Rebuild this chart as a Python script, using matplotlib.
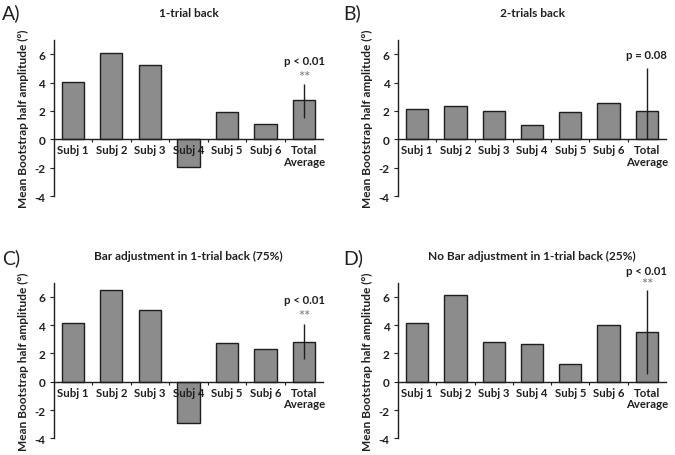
import matplotlib
matplotlib.use("Agg")
import matplotlib.pyplot as plt
import numpy as np

plt.rcParams['font.family'] = ['Lato', 'DejaVu Sans']

categories = ["Subj 1", "Subj 2", "Subj 3", "Subj 4", "Subj 5", "Subj 6", "Total\nAverage"]

vals_a = [4.02, 6.12, 5.27, -1.93, 1.90, 1.10, 2.78]
err_a = [1.30, 1.10]   # lower, upper for Total Average
vals_b = [2.12, 2.38, 2.02, 1.01, 1.95, 2.59, 2.02]
err_b = [2.02, 3.02]
vals_c = [4.14, 6.49, 5.04, -2.89, 2.71, 2.31, 2.78]
err_c = [1.18, 1.29]
vals_d = [4.12, 6.12, 2.82, 2.68, 1.27, 3.98, 3.53]
err_d = [2.99, 2.96]

titles = ["1-trial back", "2-trials back",
          "Bar adjustment in 1-trial back (75%)",
          "No Bar adjustment in 1-trial back (25%)"]
letters = ["A)", "B)", "C)", "D)"]
pvals = ["p < 0.01", "p = 0.08", "p < 0.01", "p < 0.01"]
stars = ["**", "", "**", "**"]
p_y = [5.55, 6.0, 5.77, 7.88]
star_y = [4.4, None, 4.64, 6.86]
yticks = [-4, -2, 0, 2, 4, 6]
ylabel = "Mean Bootstrap half amplitude (°)"

W, H = 675, 456
fig = plt.figure(figsize=(W / 100, H / 100), dpi=100)

# axes rectangles in pixels: left, top(y=7), right, bottom(y=-4)
rects = [(53.5, 41.1, 323.3, 197.0),
         (398.0, 41.1, 666.0, 197.0),
         (53.5, 283.5, 323.3, 439.4),
         (398.0, 283.5, 666.0, 439.4)]
letter_pos = [(2, 13), (343, 13), (2, 258), (343, 258)]

data = [(vals_a, err_a), (vals_b, err_b), (vals_c, err_c), (vals_d, err_d)]
txt = '#231f20'
wt = 'bold'

for i, ((vals, err), (l, t, r, b)) in enumerate(zip(data, rects)):
    ax = fig.add_axes([l / W, 1 - b / H, (r - l) / W, (b - t) / H])
    ax.set_axisbelow(False)
    x = np.arange(len(categories))
    ax.bar(x, vals, width=0.58, color='#8c8c8c', edgecolor='#1e1e1e', linewidth=1.0, zorder=2)
    ax.errorbar([x[-1]], [vals[-1]], yerr=[[err[0]], [err[1]]], fmt='none',
                ecolor='#1e1e1e', elinewidth=1.0, capsize=0, zorder=3)
    ax.set_xlim(-0.5, 6.5)
    ax.set_ylim(-4, 7)
    ax.spines['top'].set_visible(False)
    ax.spines['right'].set_visible(False)
    ax.spines['bottom'].set_position(('data', 0))
    ax.spines['bottom'].set_color('#1e1e1e')
    ax.spines['left'].set_color('#1e1e1e')
    ax.spines['left'].set_linewidth(1.0)
    ax.spines['bottom'].set_linewidth(1.0)
    ax.set_yticks(yticks)
    ax.set_yticklabels([str(v) for v in yticks], fontsize=8.5, color=txt, fontweight=wt)
    ax.tick_params(axis='y', length=3, width=0.8, direction='out', pad=3, colors=txt)
    ax.set_xticks(x)
    ax.set_xticklabels(categories, fontsize=8.2, color=txt, fontweight=wt, linespacing=1.05)
    ax.tick_params(axis='x', which='major', length=0, pad=3.5)
    ax.set_xticks(np.arange(0.5, 6.0, 1.0), minor=True)
    ax.tick_params(axis='x', which='minor', length=2.5, width=0.8, direction='out', colors='#1e1e1e')
    ax.set_ylabel(ylabel, fontsize=8.6, color=txt, fontweight=wt, labelpad=4)
    ax.set_title(titles[i], fontsize=8.6, color=txt, fontweight=wt, pad=17)
    ax.text(x[-1], p_y[i], pvals[i], ha='center', va='center', fontsize=8.2,
            color=txt, fontweight=wt, clip_on=False)
    if stars[i]:
        ax.text(x[-1], star_y[i], stars[i], ha='center', va='center', fontsize=10.5,
                color='#7a7a7a', clip_on=False)
    fig.text(letter_pos[i][0] / W, 1 - letter_pos[i][1] / H, letters[i], fontsize=14,
             color=txt, ha='left', va='center')

fig.savefig("out.png", dpi=100)
